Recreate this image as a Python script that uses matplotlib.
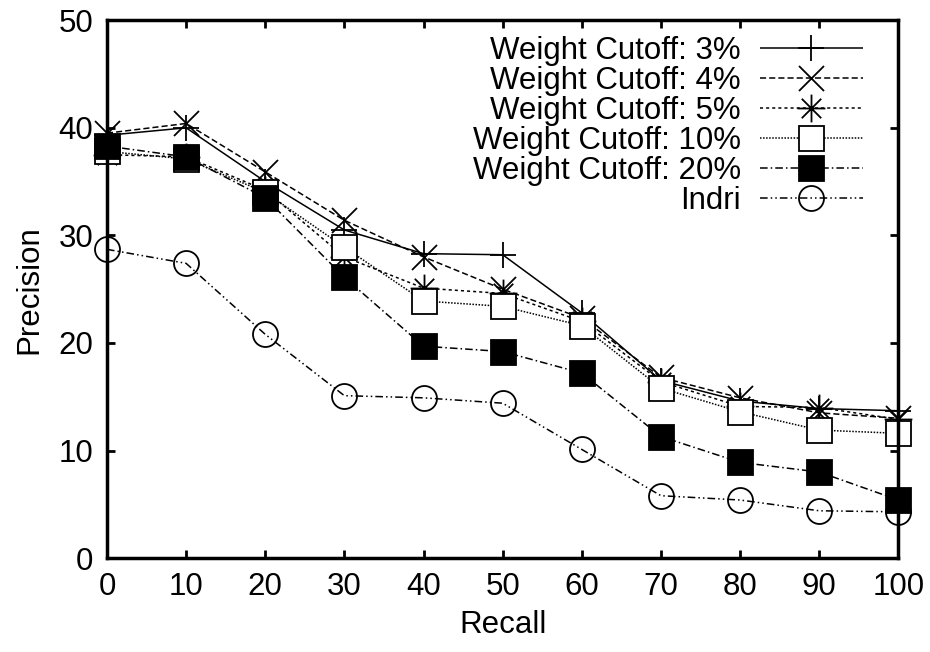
import matplotlib.pyplot as plt
from matplotlib.path import Path

plt.rcParams['font.family'] = ['Liberation Sans', 'DejaVu Sans']
plt.rcParams['font.size'] = 22.5

recall = [0, 10, 20, 30, 40, 50, 60, 70, 80, 90, 100]
cut3 = [39.3, 40.0, 35.0, 30.5, 28.3, 28.2, 22.8, 16.5, 14.6, 13.9, 13.7]
cut4 = [39.5, 40.4, 35.9, 31.4, 28.0, 25.0, 22.3, 16.8, 14.9, 13.5, 13.0]
cut5 = [37.5, 37.3, 34.2, 28.0, 25.1, 24.6, 22.0, 16.4, 14.1, 14.0, 12.9]
cut10 = [37.8, 37.1, 34.0, 28.9, 23.9, 23.4, 21.6, 15.8, 13.6, 11.9, 11.6]
cut20 = [38.3, 37.3, 33.5, 26.1, 19.7, 19.2, 17.2, 11.3, 8.9, 8.0, 5.4]
indri = [28.7, 27.4, 20.8, 15.1, 14.9, 14.4, 10.1, 5.8, 5.4, 4.4, 4.3]

labels = ['Weight Cutoff: 3%', 'Weight Cutoff: 4%', 'Weight Cutoff: 5%',
          'Weight Cutoff: 10%', 'Weight Cutoff: 20%', 'Indri']

# gnuplot-like asterisk: a plus and a cross on top of each other
star = Path([(-1, 0), (1, 0), (0, -1), (0, 1),
             (-0.7, -0.7), (0.7, 0.7), (-0.7, 0.7), (0.7, -0.7)],
            [Path.MOVETO, Path.LINETO] * 4)

fig = plt.figure(figsize=(9.3, 6.52), dpi=100)
ax = fig.add_axes([0.115, 0.144, 0.851, 0.825])

styles = [
    (cut3, '+', 'none', (0, ()), 19),
    (cut4, 'x', 'none', (0, (4, 2)), 18),
    (cut5, star, 'none', (0, (2, 2)), 20),
    (cut10, 's', 'white', (0, (1, 1)), 18),
    (cut20, 's', 'black', (0, (5, 2, 1, 2)), 18),
    (indri, 'o', 'none', (0, (5, 2, 1, 2, 1, 2)), 18),
]

for (vals, mk, fc, ls, ms), lab in zip(styles, labels):
    ax.plot(recall, vals, color='black', lw=1.1, linestyle=ls,
            marker=mk, markersize=ms, markerfacecolor=fc,
            markeredgecolor='black', markeredgewidth=1.3,
            label=lab, clip_on=False)

ax.set_xlim(0, 100)
ax.set_ylim(0, 50)
ax.set_xticks(range(0, 101, 10))
ax.set_yticks(range(0, 51, 10))
ax.tick_params(direction='in', length=6, width=2, top=True, right=True, pad=10)
for sp in ax.spines.values():
    sp.set_linewidth(2.5)

ax.set_xlabel('Recall', labelpad=6)
ax.set_ylabel('Precision', labelpad=10)

ax.legend(loc='upper right', frameon=False, markerfirst=False,
          handlelength=3.3, labelspacing=0.0, handletextpad=0.6,
          borderaxespad=0.1, bbox_to_anchor=(0.975, 1.0), numpoints=1)

fig.savefig('out.png', dpi=100)
